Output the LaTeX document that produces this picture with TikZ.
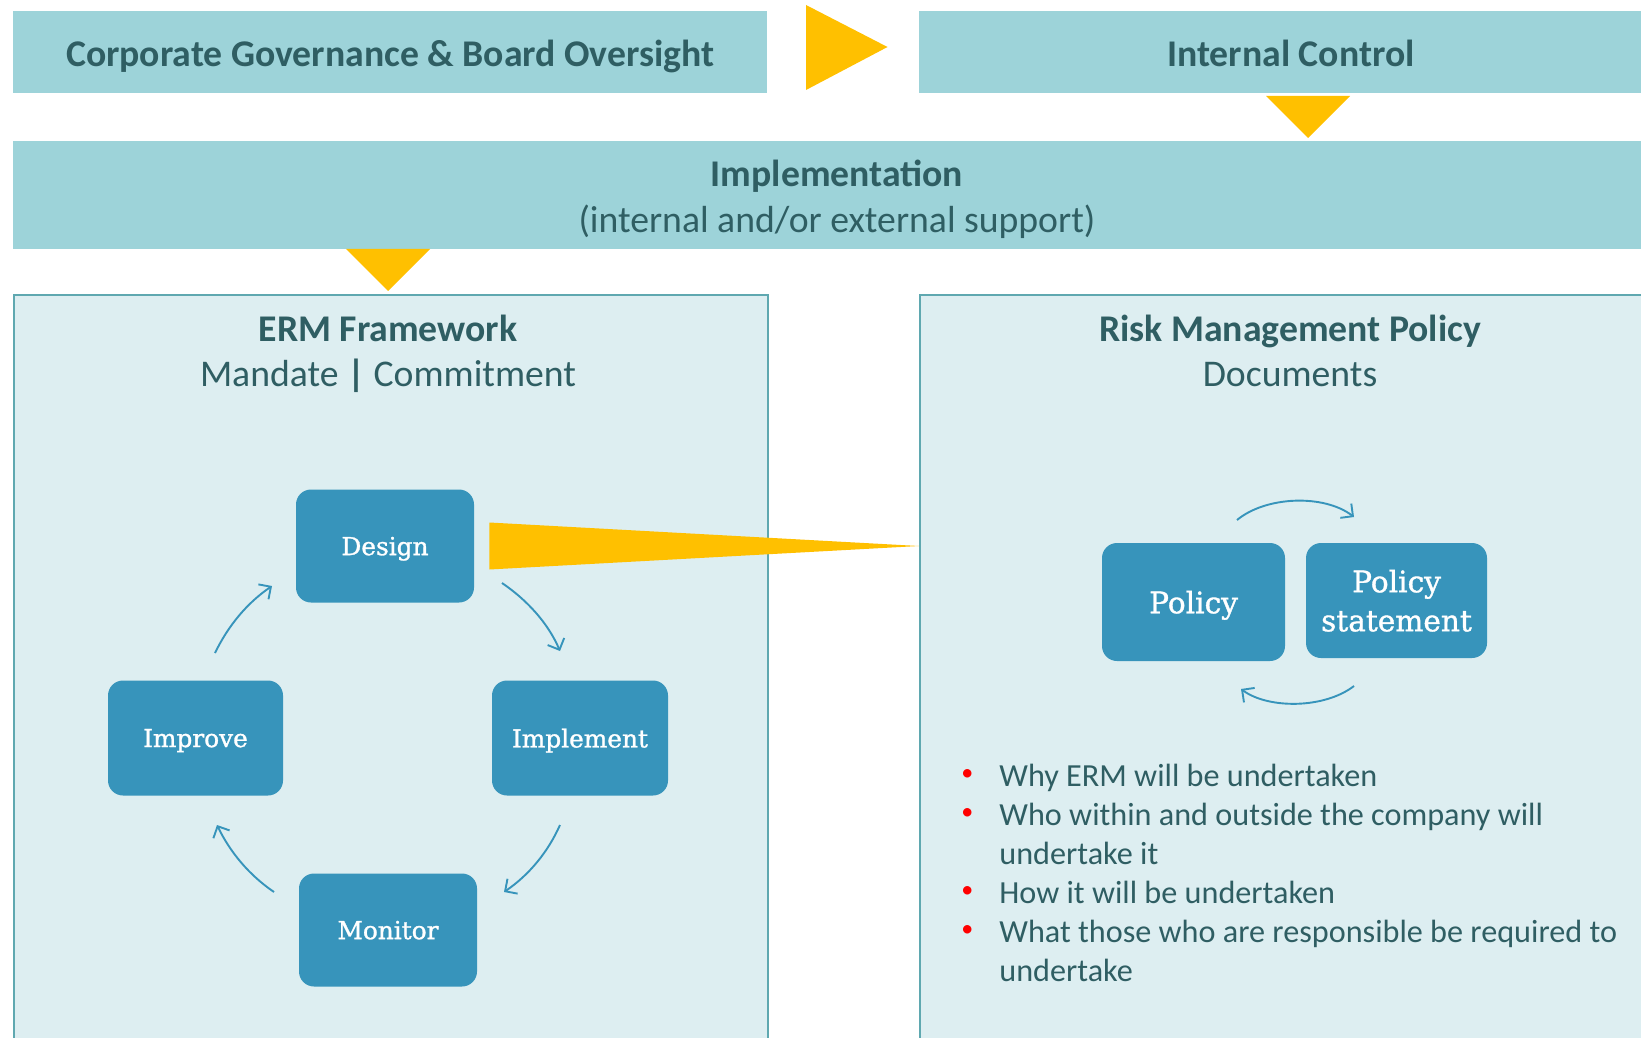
\documentclass[tikz,border=0pt]{standalone}
\usepackage{fontspec}
\setmainfont{Carlito}
\newfontfamily\slab{DejaVu Serif}[FakeBold=1.2]
\usetikzlibrary{arrows.meta}

\definecolor{band}{HTML}{9DD3D9}
\definecolor{ink}{HTML}{2F5E63}
\definecolor{gold}{HTML}{FFC000}
\definecolor{panel}{HTML}{DDEEF1}
\definecolor{panelline}{HTML}{5FA8B0}
\definecolor{stepblue}{HTML}{3794BB}
\definecolor{bulletred}{HTML}{FF0000}

\tikzset{
  bandbox/.style={fill=band, draw=none, inner sep=0pt, text=ink,
    text height=14.75pt, text depth=0pt,
    font=\fontsize{18.85}{23}\selectfont\bfseries},
  heading/.style={text=ink, inner sep=0pt, anchor=base,
    font=\fontsize{18.85}{23}\selectfont},
  panelbox/.style={fill=panel, draw=panelline, line width=1.1pt, inner sep=0pt},
  stepbox/.style={fill=stepblue, draw=none, rounded corners=7.5pt, text=white,
    inner sep=0pt, align=center, text depth=0pt,
    font=\slab\fontsize{12.4}{15}\selectfont},
  bigstep/.style={stepbox, font=\slab\fontsize{14.8}{19.5}\selectfont},
  cyc/.style={draw=stepblue, line width=0.95pt,
    -{Straight Barb[length=4.5pt,width=9pt,line width=0.95pt]}},
  marker/.style={fill=gold, draw=none}
}
\newcommand{\reddot}{\hspace*{1pt}\raisebox{3pt}{\textcolor{bulletred}{\fontsize{12}{12}\selectfont\textbullet}}}

\begin{document}
\begin{tikzpicture}[x=0.5pt,y=-0.5pt]
\useasboundingbox (0,0) rectangle (1641,1037);
\clip (0,0) rectangle (1641,1037);
\fill[white] (0,0) rectangle (1641,1037);

% top row
\node[bandbox, anchor=north west, minimum width=377.2pt, minimum height=41.25pt]
  (corp) at (12.6,10.5) {Corporate Governance \& Board Oversight};
\node[bandbox, anchor=north west, minimum width=371.5pt, minimum height=41.25pt]
  (ic) at (919,10.5) {Internal Control};
\fill[marker] (806,5) -- (887.5,47) -- (806,90) -- cycle;

% implementation band
\node[bandbox, anchor=north west, minimum width=824.7pt, minimum height=54pt]
  (impl) at (12.6,141) {};
\node[heading, font=\fontsize{18.85}{23}\selectfont\bfseries] (impltitle) at (837,186.8) {Implementation};
\node[heading] (implsub) at (837,232.8) {(internal and/or external support)};
\fill[marker] (1266,96) -- (1350,96) -- (1308,138) -- cycle;
\fill[marker] (346,249) -- (430,249) -- (388,291) -- cycle;

% panels
\node[panelbox, anchor=north west, minimum width=377.2pt, minimum height=383pt]
  (erm) at (12.6,294) {};
\node[panelbox, anchor=north west, minimum width=371.5pt, minimum height=383pt]
  (rmp) at (919,294) {};
\node[heading, font=\fontsize{18.85}{23}\selectfont\bfseries] (ermtitle) at (388,342) {ERM Framework};
\node[heading] (ermsub) at (388,386) {Mandate {\bfseries|} Commitment};
\node[heading, font=\fontsize{18.85}{23}\selectfont\bfseries] (rmptitle) at (1290,342) {Risk Management Policy};
\node[heading] (rmpsub) at (1290,386) {Documents};

% ERM cycle
\node[stepbox, minimum width=89pt, minimum height=56.5pt] (design) at (385,546) {Design};
\node[stepbox, minimum width=88pt, minimum height=57.5pt] (implement) at (580,738) {Implement};
\node[stepbox, minimum width=87.5pt, minimum height=57.5pt] (improve) at (195.5,738) {Improve};
\node[stepbox, minimum width=89pt, minimum height=56.5pt] (monitor) at (388,930) {Monitor};

\coordinate (c1a) at (502,583); \coordinate (c1b) at (560,651);
\coordinate (c2a) at (560,825); \coordinate (c2b) at (504,892);
\coordinate (c3a) at (274,892); \coordinate (c3b) at (217,825);
\coordinate (c4a) at (215,653); \coordinate (c4b) at (272,586);
\draw[cyc] (c1a) .. controls (527,600) and (548,623) .. (c1b);
\draw[cyc] (c2a) .. controls (548,852) and (529,875) .. (c2b);
\draw[cyc] (c3a) .. controls (249,875) and (230,852) .. (c3b);
\draw[cyc] (c4a) .. controls (228,626) and (247,603) .. (c4b);

% wedge from Design to the policy panel
\fill[marker] ([xshift=7.5pt,yshift=11.75pt]design.east)
  -- (rmp.west |- design.east)
  -- ([xshift=7.5pt,yshift=-11.75pt]design.east) -- cycle;

% policy pair
\node[bigstep, minimum width=91.5pt, minimum height=59pt] (policy) at (1193.5,602) {Policy};
\node[bigstep, minimum width=90.5pt, minimum height=57.5pt] (pstate) at (1396.5,600.5) {Policy\\statement};
\coordinate (p1a) at (1237,520); \coordinate (p1b) at (1354,517);
\coordinate (p2a) at (1354,686); \coordinate (p2b) at (1241,689);
\draw[cyc] (p1a) .. controls (1266,496) and (1324,494) .. (p1b);
\draw[cyc] (p2a) .. controls (1324,709) and (1268,709) .. (p2b);

% bullet list
\node[anchor=base west, inner sep=0pt, text=ink,
  font=\fontsize{16.1}{19.5}\selectfont] (list) at (959,786)
  {\renewcommand{\arraystretch}{1}%
   \begin{tabular}[t]{@{}p{20pt}@{}l@{}}
   \reddot & Why ERM will be undertaken\\
   \reddot & Who within and outside the company will\\
    & undertake it\\
   \reddot & How it will be undertaken\\
   \reddot & What those who are responsible be required to\\
    & undertake
   \end{tabular}};
\end{tikzpicture}
\end{document}
